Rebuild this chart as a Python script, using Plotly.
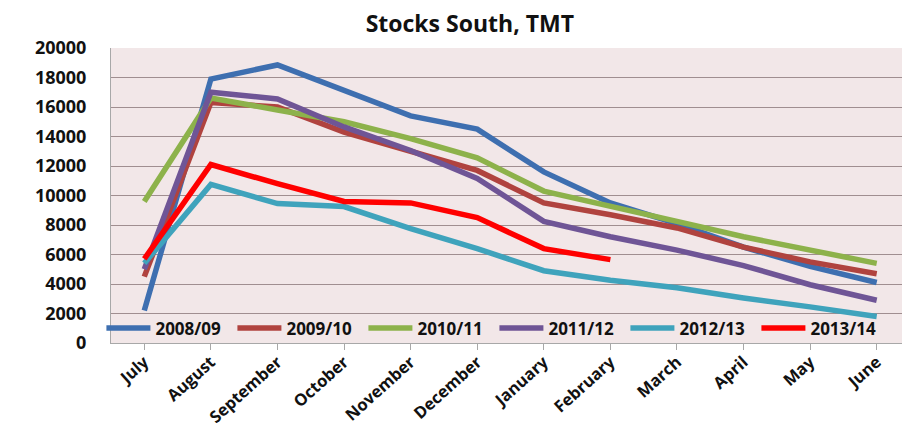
import plotly.graph_objects as go

months = ["July", "August", "September", "October", "November", "December",
          "January", "February", "March", "April", "May", "June"]

s2008_09 = [2200, 17900, 18850, 17100, 15400, 14500, 11600, 9500, 8100, 6500, 5200, 4100]
s2009_10 = [4500, 16300, 16000, 14300, 13000, 11700, 9500, 8700, 7800, 6500, 5500, 4700]
s2010_11 = [9600, 16600, 15800, 15000, 13850, 12550, 10300, 9300, 8250, 7200, 6300, 5400]
s2011_12 = [5000, 17000, 16550, 14650, 13050, 11150, 8250, 7200, 6300, 5250, 3950, 2900]
s2012_13 = [5400, 10750, 9450, 9250, 7750, 6400, 4900, 4250, 3750, 3050, 2450, 1800]
s2013_14 = [5700, 12100, 10800, 9600, 9500, 8500, 6400, 5650]

series_names = ["2008/09", "2009/10", "2010/11", "2011/12", "2012/13", "2013/14"]
series_values = [s2008_09, s2009_10, s2010_11, s2011_12, s2012_13, s2013_14]
colors = ["#3E6FB0", "#B0433F", "#8DB24B", "#6F5596", "#3FA3BC", "#FF0000"]

y_ticks = list(range(0, 20001, 2000))

FONT = "Open Sans"

fig = go.Figure()
for name, vals, col in zip(series_names, series_values, colors):
    fig.add_trace(go.Scatter(
        x=months[:len(vals)], y=vals, name=name, mode="lines",
        line=dict(color=col, width=5.5),
    ))

# page body has an 8px margin, so the figure is sized/offset to compensate
fig.update_layout(
    width=902, height=419,
    margin=dict(l=103, r=0, t=40, b=84, autoexpand=False),
    paper_bgcolor="white",
    plot_bgcolor="#F2E7E8",
    title=dict(text="Stocks South, TMT", x=0.512, xref="container", xanchor="center",
               y=0.962, yref="container", yanchor="middle",
               font=dict(family=FONT, size=23, color="#111111", weight="bold")),
    showlegend=True,
    legend=dict(orientation="h", x=-0.012, xanchor="left", y=-0.012, yanchor="bottom",
                bgcolor="rgba(0,0,0,0)", itemwidth=44, entrywidth=72,
                entrywidthmode="pixels", tracegroupgap=0,
                font=dict(family=FONT, size=17, color="#111111", weight="bold")),
    xaxis=dict(
        type="category", categoryorder="array", categoryarray=months,
        range=[-0.5, 11.5], tickangle=-42, automargin=False,
        showgrid=False, showline=True, linecolor="#A8A8A8", linewidth=1,
        ticks="outside", ticklen=6, tickcolor="#A8A8A8", ticklabelstandoff=-4,
        tickfont=dict(family=FONT, size=16.5, color="#111111", weight="bold"),
    ),
    yaxis=dict(
        range=[0, 20000], tickvals=y_ticks, ticktext=[str(v) for v in y_ticks],
        showgrid=True, gridcolor="#A08E90", gridwidth=1, automargin=False,
        showline=True, linecolor="#A8A8A8", linewidth=1,
        zeroline=False, ticks="", ticklabelstandoff=20,
        tickfont=dict(family=FONT, size=18, color="#111111", weight="bold"),
    ),
)

fig.write_html("out.html", config={"displayModeBar": False})
